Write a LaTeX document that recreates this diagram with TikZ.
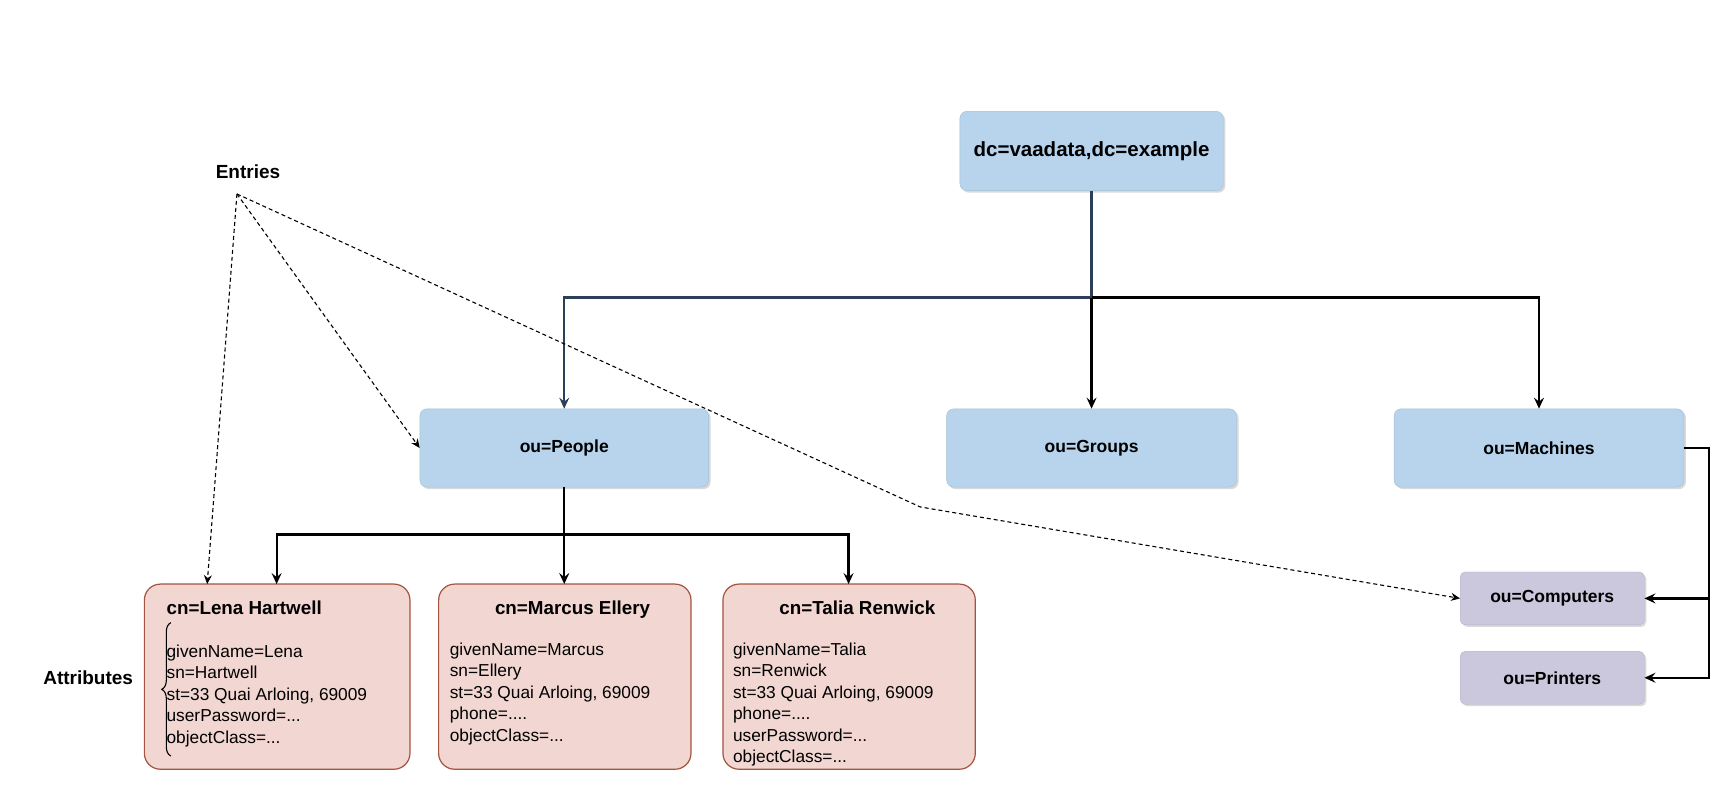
\documentclass[tikz,border=0pt]{standalone}
\usepackage{fontspec}
\setmainfont{Liberation Sans}
\usetikzlibrary{shadows,arrows.meta,decorations.pathreplacing}
\definecolor{bluef}{HTML}{B7D4EC}
\definecolor{pinkf}{HTML}{F1D6D1}
\definecolor{pinkd}{HTML}{A3533F}
\definecolor{purf}{HTML}{CBC7DD}
\definecolor{navy}{HTML}{2C3E5A}
\begin{document}
\begin{tikzpicture}[x=1.102pt,y=-1.102pt,
  box/.style={rounded corners=7pt,inner sep=0,drop shadow={shadow xshift=2pt,shadow yshift=-2pt,fill=black!25,opacity=0.6},font=\fontsize{17.5}{20}\selectfont\bfseries},
  blue/.style={box,fill=bluef,draw=bluef!90!black},
  pur/.style={box,fill=purf,draw=purf!90!black,rounded corners=5pt},
  pers/.style={rounded corners=16pt,fill=pinkf,draw=pinkd,line width=1.2pt},
  arr/.style={-{Stealth[length=11pt,width=10pt,inset=4pt]},line width=2.2pt},
  dot/.style={-{Stealth[length=9pt,width=8pt,inset=3pt]},dash pattern=on 4pt off 3pt,line width=1.1pt},
  lab/.style={font=\fontsize{19}{22}\selectfont\bfseries}]
\useasboundingbox (0,0) rectangle (1568,726);
\node[blue,minimum width=239*1.102pt,minimum height=72*1.102pt,font=\fontsize{20.5}{22}\selectfont\bfseries] (root) at (990.5,137) {dc=vaadata,dc=example};
\node[blue,minimum width=262*1.102pt,minimum height=71*1.102pt] (people) at (512,406.5) {ou=People};
\node[blue,minimum width=263*1.102pt,minimum height=71*1.102pt] (groups) at (990.5,406.5) {ou=Groups};
\node[blue,minimum width=263*1.102pt,minimum height=71*1.102pt] (mach) at (1396.5,406.5) {ou=Machines};
\node[pur,minimum width=167*1.102pt,minimum height=48*1.102pt] (comp) at (1408.5,543) {ou=Computers};
\node[pur,minimum width=167*1.102pt,minimum height=48*1.102pt] (prin) at (1408.5,615) {ou=Printers};
\draw[pers] (131,530) rectangle (372,698);
\draw[pers] (398,530) rectangle (627,698);
\draw[pers] (656,530) rectangle (885,698);
\coordinate (lena) at (251,530);
\coordinate (marc) at (512,530);
\coordinate (tali) at (770,530);
\coordinate (lenad) at (188,530);
\begin{scope}[font=\fontsize{17.3}{21.5}\selectfont]
\node[anchor=north west,align=left,inner sep=0] (t1) at (151,545) {\textbf{\fontsize{18.8}{21.5}\selectfont cn=Lena Hartwell}\\[21.5pt]givenName=Lena\\sn=Hartwell\\st=33 Quai Arloing, 69009\\userPassword=...\\objectClass=...};
\node[anchor=north west,inner sep=0] (h2) at (449,545) {\textbf{\fontsize{18.8}{21.5}\selectfont cn=Marcus Ellery}};
\node[anchor=north west,align=left,inner sep=0] (t2) at (408,583) {givenName=Marcus\\sn=Ellery\\st=33 Quai Arloing, 69009\\phone=....\\objectClass=...};
\node[anchor=north west,inner sep=0] (h3) at (707,545) {\textbf{\fontsize{18.8}{21.5}\selectfont cn=Talia Renwick}};
\node[anchor=north west,align=left,inner sep=0] (t3) at (665,583) {givenName=Talia\\sn=Renwick\\st=33 Quai Arloing, 69009\\phone=....\\userPassword=...\\objectClass=...};
\end{scope}
\node[lab] (entries) at (225,156) {Entries};
\coordinate (ep) at (215,176);
\node[lab] (attr) at (80,615) {Attributes};
\draw[line width=1.1pt,decorate,decoration={brace,amplitude=9pt}] (155,686) -- (155,565);
% connectors
\draw[arr,navy] (root.south) -- (990.5,270) -| (people.north);
\draw[arr] (990.5,270) -- (groups.north);
\draw[arr] (990.5,270) -| (mach.north);
\draw[arr] (people.south) -- (512,485) -| (lena);
\draw[arr] (512,485) -- (marc);
\draw[arr] (512,485) -| (tali);
\draw[arr] (mach.east) -| (1551,543) -- (comp.east);
\draw[arr] (1551,543) |- (prin.east);
\draw[dot] (ep) -- (lenad);
\draw[dot] (ep) -- (people.west);
\draw[dot] (ep) -- (835,460) -- (comp.west);
\end{tikzpicture}
\end{document}
